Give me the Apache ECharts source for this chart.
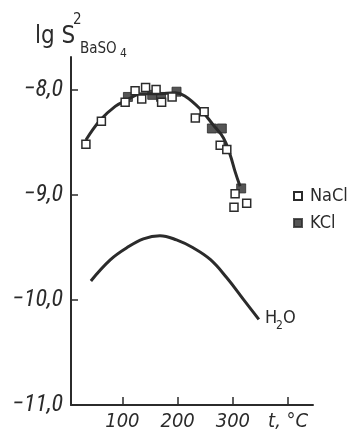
<!DOCTYPE html>
<html><head><meta charset="utf-8">
<script src="https://cdn.jsdelivr.net/npm/echarts@6/dist/echarts.min.js"></script>
<style>html,body{margin:0;padding:0;background:#fff}#c{width:352px;height:435px}</style>
</head><body><div id="c"></div>
<script>
// NaCl points [t °C, lg S²]
const naclT = [34, 62, 105, 123, 135, 142, 161, 171, 190, 232, 248, 277, 289, 304, 302, 325];
const naclY = [-8.52, -8.30, -8.12, -8.01, -8.09, -7.98, -8.00, -8.12, -8.07, -8.27, -8.21, -8.53, -8.57, -8.99, -9.12, -9.08];
// KCl points
const kclT = [110, 154, 170, 198, 262, 280, 315];
const kclY = [-8.07, -8.05, -8.07, -8.02, -8.37, -8.37, -8.94];
// fitted curve through salt data
const fitT = [34, 60, 87, 105, 135, 165, 195, 213, 240, 265, 283, 295, 304, 313];
const fitY = [-8.48, -8.29, -8.16, -8.11, -8.04, -8.04, -8.03, -8.06, -8.18, -8.34, -8.46, -8.62, -8.78, -8.92];
// pure water curve
const h2oT = [43, 78, 108, 138, 168, 198, 228, 259, 289, 319, 347];
const h2oY = [-9.82, -9.62, -9.505, -9.42, -9.39, -9.43, -9.505, -9.616, -9.79, -9.995, -10.185];
// tick labels
const xTicks = [100, 200, 300, 400];
const xTickLabels = ['100', '200', '300', 't, °C'];
const yTicks = [-11, -10, -9, -8];

const ink = '#2b2b2b';
const condI = 'Roboto Condensed';
const dvc = 'DejaVu Sans Condensed';
const zip = (a, b) => a.map((v, i) => [v, b[i]]);

const chart = echarts.init(document.getElementById('c'), null, {renderer: 'canvas'});
chart.setOption({
  animation: false,
  backgroundColor: '#fff',
  grid: {left: 71, right: 39, top: 57, bottom: 30},
  xAxis: {
    type: 'value', min: 7, max: 445,
    axisLine: {show: true, lineStyle: {color: ink, width: 2}},
    axisTick: {show: true, inside: true, length: 8, customValues: xTicks, lineStyle: {color: ink, width: 1.5}},
    axisLabel: {customValues: xTicks, margin: 7, fontSize: 20, fontStyle: 'italic', fontFamily: dvc, color: ink,
      formatter: v => xTickLabels[xTicks.indexOf(v)]},
    splitLine: {show: false}
  },
  yAxis: {
    type: 'value', min: -11, max: -7.69,
    axisLine: {show: true, lineStyle: {color: ink, width: 2}},
    axisTick: {show: true, inside: true, length: 7, customValues: yTicks, lineStyle: {color: ink, width: 1.5}},
    axisLabel: {customValues: yTicks, margin: 8, fontSize: 24, fontStyle: 'italic', fontFamily: condI, color: ink,
      formatter: v => '\u2212' + Math.abs(v).toFixed(1).replace('.', ',')},
    splitLine: {show: false}
  },
  legend: {
    data: ['NaCl', 'KCl'], orient: 'vertical', left: 288, top: 182,
    itemWidth: 8, itemHeight: 8, itemGap: 9, icon: 'rect',
    textStyle: {fontSize: 18, fontFamily: dvc, color: ink, padding: [0, 0, 0, 3]}
  },
  graphic: [
    {type: 'text', left: 35, top: 25, style: {text: 'lg S', font: '24px "DejaVu Sans Condensed"', fill: ink}},
    {type: 'text', left: 73, top: 13, style: {text: '2', font: '15px "DejaVu Sans Condensed"', fill: ink}},
    {type: 'text', left: 80, top: 42, style: {text: 'BaSO', font: '15px "DejaVu Sans Condensed"', fill: ink}},
    {type: 'text', left: 120, top: 48, style: {text: '4', font: '12px "DejaVu Sans Condensed"', fill: ink}},
    {type: 'text', left: 265, top: 309, style: {text: 'H', font: '18px "DejaVu Sans Condensed"', fill: ink}},
    {type: 'text', left: 276, top: 320, style: {text: '2', font: '12px "DejaVu Sans Condensed"', fill: ink}},
    {type: 'text', left: 283, top: 309, style: {text: 'O', font: '18px "DejaVu Sans Condensed"', fill: ink}}
  ],
  series: [
    {name: 'fit', type: 'line', data: zip(fitT, fitY), smooth: 0.4, showSymbol: false, z: 2,
      lineStyle: {color: ink, width: 3}},
    {name: 'H2O', type: 'line', data: zip(h2oT, h2oY), smooth: 0.4, showSymbol: false, z: 2,
      lineStyle: {color: ink, width: 3}},
    {name: 'NaCl', type: 'scatter', data: zip(naclT, naclY), symbol: 'rect', symbolSize: 8, z: 4,
      itemStyle: {color: '#fff', borderColor: ink, borderWidth: 1.5, opacity: 1}},
    {name: 'KCl', type: 'scatter', data: zip(kclT, kclY), symbol: 'rect', symbolSize: 9, z: 3,
      itemStyle: {color: ink, borderColor: ink, borderWidth: 1}}
  ]
});
</script></body></html>
